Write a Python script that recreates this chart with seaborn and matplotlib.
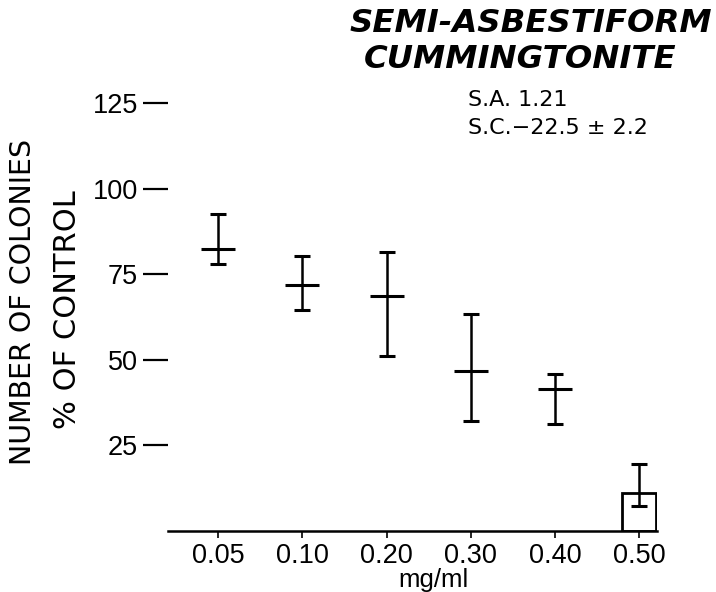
import numpy as np
import pandas as pd
import matplotlib
matplotlib.use("Agg")
import matplotlib.pyplot as plt
import seaborn as sns

# Colony survival (% of control) versus fibre dose
doses = ["0.05", "0.10", "0.20", "0.30", "0.40", "0.50"]
means = [82.4, 71.8, 68.6, 46.7, 41.5, 11.1]
lows = [78.0, 64.5, 51.1, 32.1, 31.3, 7.3]
highs = [92.6, 80.3, 81.5, 63.4, 45.9, 19.6]
y_ticks = [25, 50, 75, 100, 125]

df = pd.DataFrame({"dose": doses, "mean": means, "low": lows, "high": highs})

sns.set_theme(style="white")
plt.rcParams["font.family"] = ["DejaVu Sans"]
plt.rcParams["text.color"] = "black"

W, H = 716, 592
fig = plt.figure(figsize=(W / 100, H / 100), dpi=100)
ax = fig.add_axes([168 / W, 1 - 531 / H, (657 - 168) / W, (531 - 103) / H])

# highest dose shown as an open box
sns.barplot(data=df.iloc[-1:], x="dose", y="mean", order=doses, ax=ax,
            color="white", edgecolor="black", linewidth=2.0, width=0.4,
            errorbar=None)

# mean marks for the other doses
sns.pointplot(data=df.iloc[:-1], x="dose", y="mean", order=doses, ax=ax,
              linestyle="none", marker="_", markersize=24, markeredgewidth=2.2,
              color="black", errorbar=None)

pos = np.arange(len(doses))
m = np.array(means)
ax.errorbar(pos, m, yerr=[m - np.array(lows), np.array(highs) - m],
            fmt="none", ecolor="black", elinewidth=1.8, capsize=5.8, capthick=2.2)

ax.set_xlim(-0.594, 5.21)
ax.set_ylim(0, 125)
ax.set_yticks(y_ticks)
ax.set_yticklabels([str(v) for v in y_ticks])
ax.set_xlabel("")
ax.set_ylabel("")

for s in ["top", "right", "left"]:
    ax.spines[s].set_visible(False)
ax.spines["bottom"].set_color("black")
ax.spines["bottom"].set_linewidth(1.8)

ax.tick_params(axis="y", which="both", left=True, length=18, width=1.6,
               direction="out", pad=3.6, colors="black", labelcolor="black")
ax.tick_params(axis="x", which="both", bottom=True, length=5, width=1.2,
               direction="out", pad=3.5, colors="black", labelcolor="black")
for lab in ax.get_xticklabels() + ax.get_yticklabels():
    lab.set_fontfamily("Liberation Sans")
    lab.set_fontsize(19.5)
    lab.set_color("black")

fig.text(433 / W, 1 - 587 / H, "mg/ml", ha="center", va="baseline",
         fontsize=18.5, family="Liberation Sans", color="black")

fig.text(23 / W, 1 - 302 / H, "NUMBER OF COLONIES", rotation=90,
         ha="center", va="center", fontsize=20.5, color="black")
fig.text(68 / W, 1 - 310 / H, "% OF CONTROL", rotation=90,
         ha="center", va="center", fontsize=22, color="black")

fig.text(531 / W, 1 - 24 / H, "SEMI-ASBESTIFORM", ha="center", va="center",
         fontsize=23.3, fontweight="bold", fontstyle="italic", color="black")
fig.text(520 / W, 1 - 59 / H, "CUMMINGTONITE", ha="center", va="center",
         fontsize=23.3, fontweight="bold", fontstyle="italic", color="black")

fig.text(468 / W, 1 - 100 / H, "S.A. 1.21", ha="left", va="center",
         fontsize=16, color="black")
fig.text(468 / W, 1 - 128 / H, "S.C.\u221222.5 \u00b1 2.2", ha="left",
         va="center", fontsize=16, color="black")

fig.savefig("out.png", dpi=100)
